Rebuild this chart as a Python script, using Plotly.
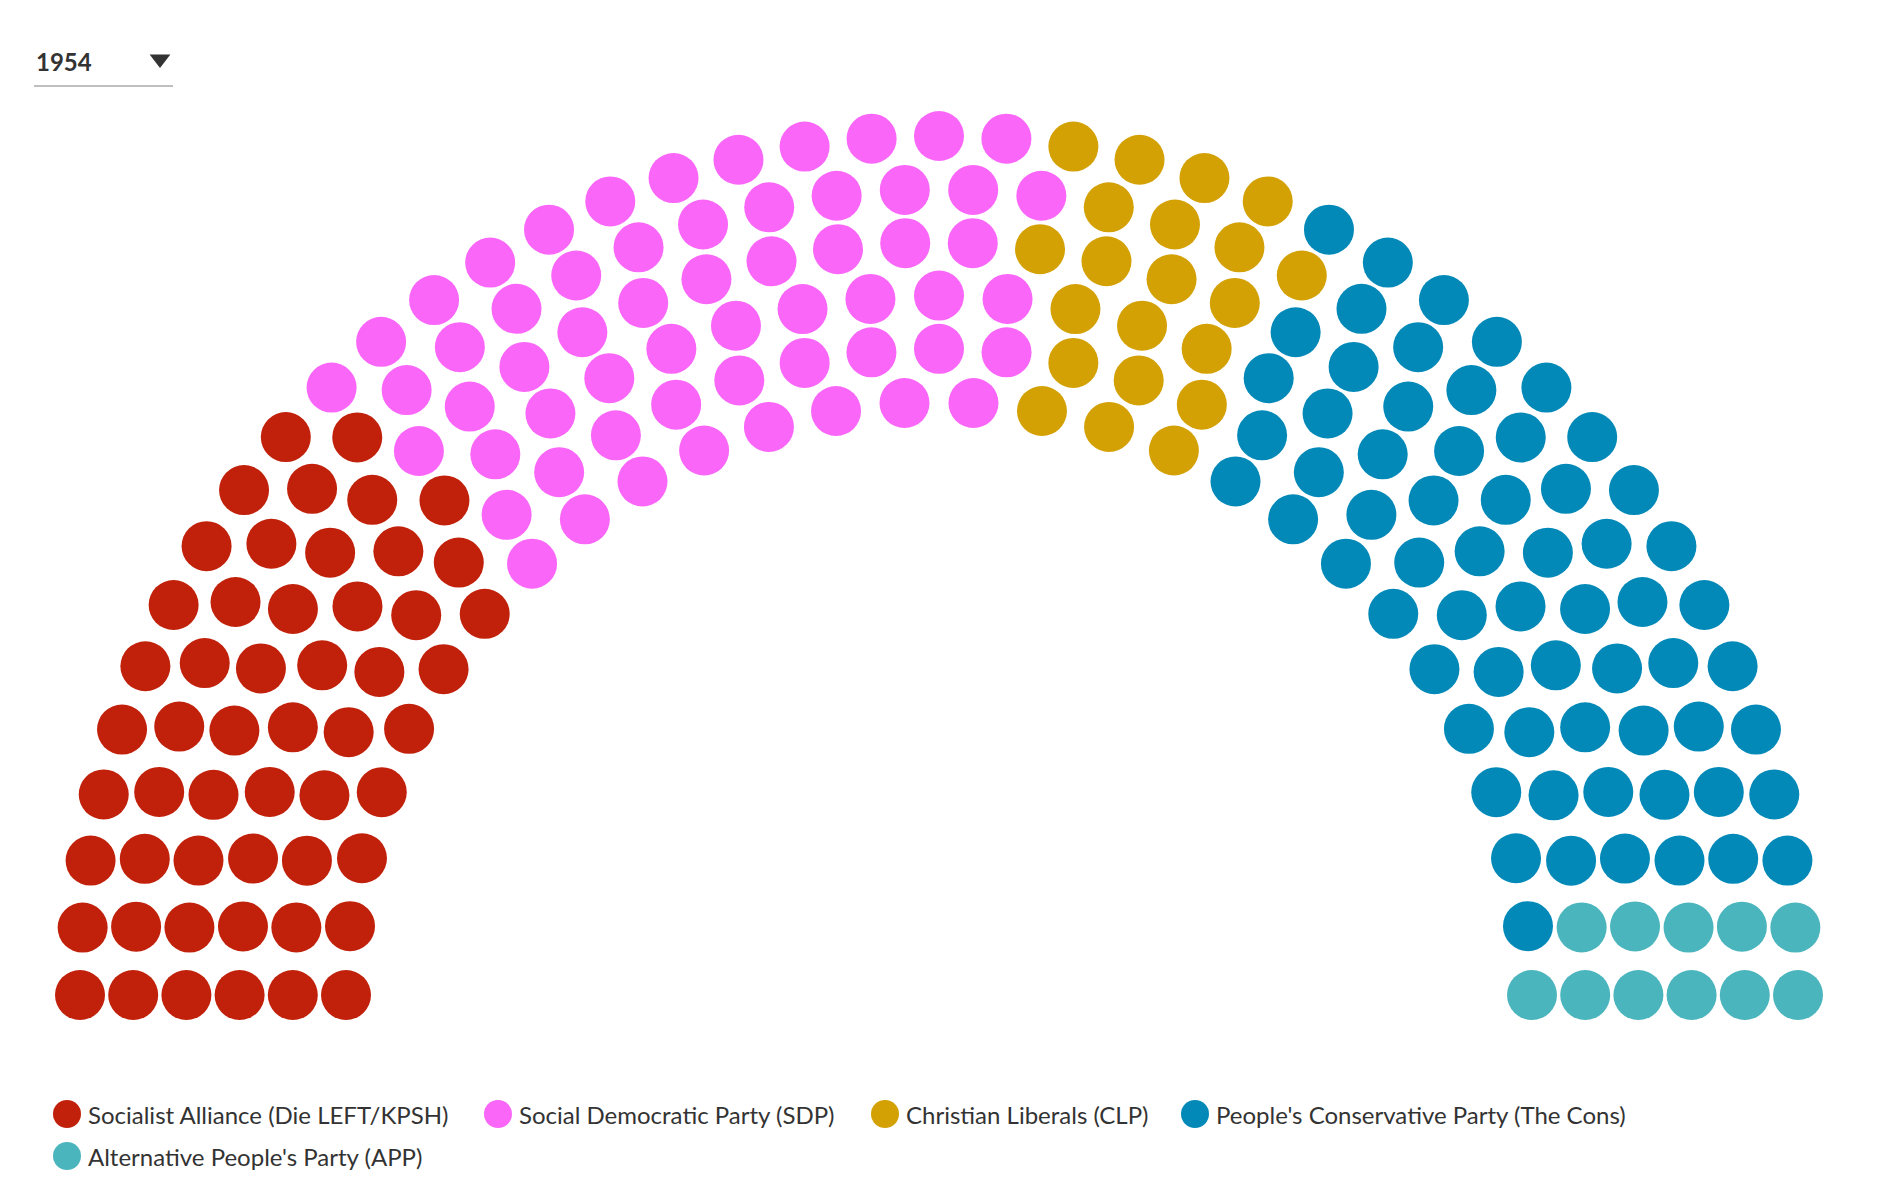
import math
import plotly.graph_objects as go

parties = ["Socialist Alliance (Die LEFT/KPSH)", "Social Democratic Party (SDP)",
           "Christian Liberals (CLP)", "People's Conservative Party (The Cons)",
           "Alternative People's Party (APP)"]
seats = [53, 59, 21, 63, 11]
colors = ["#C1210B", "#FA66F8", "#D4A104", "#0389B8", "#4BB5BD"]
year = "1954"

W, H = 1878, 1184
cx, cy = 931, 1184 - 987
r_in, dr, nrows = 593, 53.2, 6
total = sum(seats)
radii = [r_in + i * dr for i in range(nrows)]
raw = [total * r / sum(radii) for r in radii]
counts = [int(round(v)) for v in raw]
counts[-1] += total - sum(counts)

pts = []
for r, n in zip(radii, counts):
    for j in range(n):
        th = math.pi - j * math.pi / (n - 1)
        pts.append((th, r))
pts.sort(key=lambda p: (-round(p[0], 9), p[1]))

fig = go.Figure()
k = 0
for name, s, c in zip(parties, seats, colors):
    sub = pts[k:k + s]
    k += s
    fig.add_trace(go.Scatter(
        x=[cx + r * math.cos(t) for t, r in sub],
        y=[cy + r * math.sin(t) for t, r in sub],
        mode="markers", name=name, showlegend=False,
        marker=dict(size=50, color=c, line=dict(width=0)),
        hoverinfo="name"))

# custom legend (positions in pixel units of the axes)
leg_x = [59, 490, 877, 1187, 59]
leg_y = [78, 78, 78, 78, 36]
fig.add_trace(go.Scatter(x=leg_x, y=leg_y, mode="markers", showlegend=False,
                         hoverinfo="skip", marker=dict(size=28, color=colors)))
for name, x, y in zip(parties, leg_x, leg_y):
    fig.add_annotation(x=x + 19, y=y, text=name, showarrow=False, xanchor="left",
                       yanchor="middle", font=dict(size=24, color="#333"))

# year selector
fig.add_annotation(x=26, y=1131, text="<b>" + year + "</b>", showarrow=False,
                   xanchor="left", yanchor="middle", font=dict(size=24, color="#333"))
fig.add_trace(go.Scatter(x=[152], y=[1133], mode="markers", showlegend=False,
                         hoverinfo="skip",
                         marker=dict(symbol="triangle-down", size=18, color="#333")))

fig.update_layout(
    width=W, height=H, margin=dict(l=0, r=0, t=0, b=0),
    paper_bgcolor="white", plot_bgcolor="white",
    font=dict(family="Lato, Open Sans, sans-serif", size=24, color="#333"),
    xaxis=dict(range=[0, W], visible=False, fixedrange=True),
    yaxis=dict(range=[0, H], visible=False, fixedrange=True),
    showlegend=False,
    shapes=[dict(type="line", x0=26, x1=165, y0=1184 - 78, y1=1184 - 78,
                 line=dict(color="#aaa", width=1.5))],
)
fig.write_html("out.html")
